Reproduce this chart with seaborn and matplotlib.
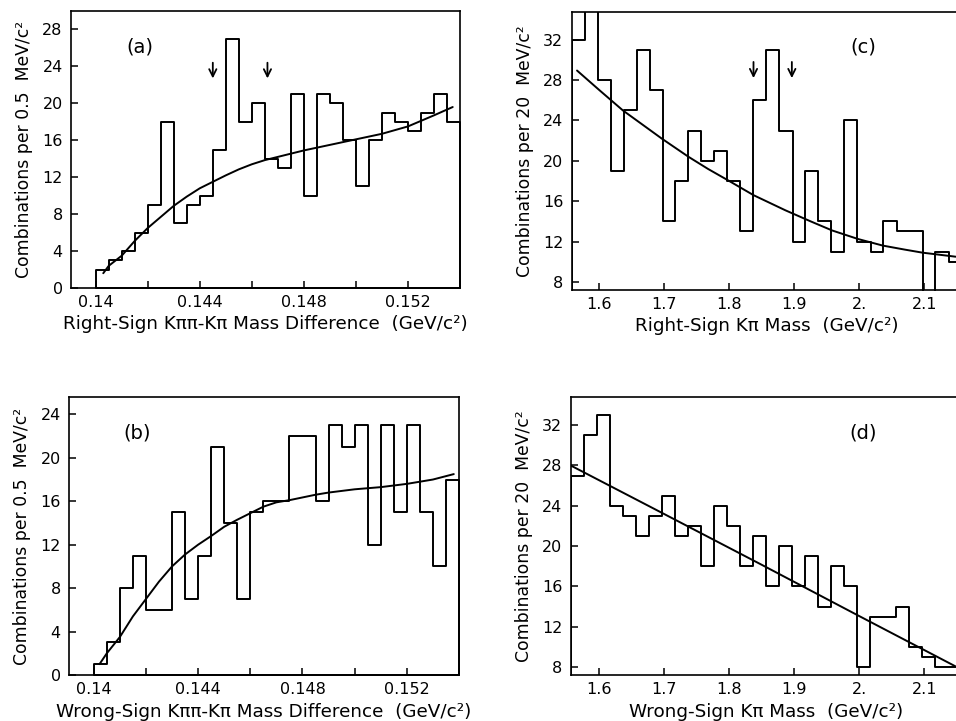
import numpy as np
import pandas as pd
import matplotlib
matplotlib.use("Agg")
import matplotlib.pyplot as plt
import seaborn as sns

# ---------------- data ----------------
# Mass-difference histograms: 0.5 MeV bins starting at 0.140 GeV
dm_start, dm_width = 0.140, 0.0005
dm_right_counts = [2, 3, 4, 6, 9, 18, 7, 9, 10, 15, 27, 18, 20, 14,
                   13, 21, 10, 21, 20, 16, 11, 16, 19, 18, 17, 19, 21, 18]
dm_wrong_counts = [1, 3, 8, 11, 6, 6, 15, 7, 11, 21, 14, 7, 15, 16,
                   16, 22, 22, 16, 23, 21, 23, 12, 23, 15, 23, 15, 10, 18]

# Background fits for the mass-difference plots
dm_right_fit_x = [0.14029, 0.1405, 0.1410, 0.1415, 0.1420, 0.1425, 0.1430,
                  0.1435, 0.1440, 0.1445, 0.1450, 0.1455, 0.1460, 0.1465,
                  0.1470, 0.1480, 0.1490, 0.1500, 0.1510, 0.1520, 0.1530,
                  0.15372]
dm_right_fit_y = [1.6, 2.4, 3.5, 5.1, 6.5, 7.7, 8.9, 9.9, 10.8, 11.5, 12.2,
                  12.85, 13.4, 13.85, 14.2, 14.9, 15.5, 16.1, 16.7, 17.5,
                  18.7, 19.6]
dm_wrong_fit_x = [0.14022, 0.1405, 0.1410, 0.1415, 0.1420, 0.1425, 0.1430,
                  0.1435, 0.1440, 0.1445, 0.1450, 0.1455, 0.1460, 0.1465,
                  0.1470, 0.1475, 0.1480, 0.1485, 0.1490, 0.1500, 0.1510,
                  0.1520, 0.1530, 0.1538]
dm_wrong_fit_y = [1.0, 2.0, 3.5, 5.4, 7.0, 8.6, 10.0, 11.1, 12.0, 12.8,
                  13.65, 14.3, 14.9, 15.5, 15.9, 16.1, 16.35, 16.6, 16.8,
                  17.1, 17.3, 17.6, 18.0, 18.5]

# Signal window markers
dm_arrows = [0.1445, 0.1466]

# K pi invariant-mass histograms: 20 MeV bins
kpi_start, kpi_width = 1.557, 0.02
kpi_right_counts = [32, 36, 28, 19, 25, 31, 27, 14, 18, 23, 20, 21, 18, 13,
                    26, 31, 23, 12, 19, 14, 11, 24, 12, 11, 14, 13, 13, 7,
                    11, 10]
kpi_wrong_counts = [27, 31, 33, 24, 23, 21, 23, 25, 21, 22, 18, 24, 22, 18,
                    21, 16, 20, 16, 19, 14, 18, 16, 8, 13, 13, 14, 10, 9,
                    8, 8]

kpi_right_fit_x = [1.5655, 1.600, 1.636, 1.666, 1.696, 1.737, 1.767, 1.797,
                   1.837, 1.886, 1.925, 1.958, 1.998, 2.036, 2.070, 2.097,
                   2.148]
kpi_right_fit_y = [28.95, 27.0, 25.0, 23.6, 22.2, 20.4, 19.2, 18.1, 16.6,
                   15.1, 14.0, 13.1, 12.25, 11.6, 11.2, 10.9, 10.5]
kpi_wrong_fit_x = [1.557, 1.700, 1.850, 2.000, 2.148]
kpi_wrong_fit_y = [28.0, 23.2, 18.15, 13.05, 8.05]

kpi_arrows = [1.837, 1.896]

dm_ticks = [0.140, 0.142, 0.144, 0.146, 0.148, 0.150, 0.152, 0.154]
dm_ticklabels = ["0.14", "", "0.144", "", "0.148", "", "0.152", ""]
kpi_ticks = [1.6, 1.7, 1.8, 1.9, 2.0, 2.1]
kpi_ticklabels = ["1.6", "1.7", "1.8", "1.9", "2.", "2.1"]

# ---------------- style ----------------
sns.set_theme(style="ticks")
plt.rcParams.update({
    "font.family": ["DejaVu Sans"],
    "axes.linewidth": 1.2,
    "axes.edgecolor": "black",
    "xtick.direction": "in",
    "ytick.direction": "in",
    "xtick.major.size": 5,
    "ytick.major.size": 5,
    "xtick.major.width": 1.1,
    "ytick.major.width": 1.1,
    "xtick.labelsize": 11.5,
    "ytick.labelsize": 11.5,
    "xtick.color": "black",
    "ytick.color": "black",
    "text.color": "black",
    "axes.labelcolor": "black",
})

W, H = 956, 721
fig = plt.figure(figsize=(W / 100, H / 100), dpi=100)
fig.patch.set_facecolor("white")


def place(left, top, width, height):
    return fig.add_axes([left / W, 1 - (top + height) / H, width / W, height / H])


def draw_hist(ax, start, width, counts):
    n = len(counts)
    edges = [start + width * i for i in range(n + 1)]
    df = pd.DataFrame({"center": [start + width * (i + 0.5) for i in range(n)],
                       "count": counts})
    sns.histplot(data=df, x="center", weights="count", bins=edges,
                 element="step", fill=True, color="black",
                 facecolor=(1, 1, 1, 0), edgecolor="black", linewidth=1.4,
                 ax=ax)


def draw_fit(ax, xs, ys):
    sns.lineplot(x=xs, y=ys, color="black", linewidth=1.4, ax=ax,
                 estimator=None, sort=False)


def draw_arrows(ax, xs, tail, tip):
    for x in xs:
        ax.annotate("", xy=(x, tip), xytext=(x, tail),
                    arrowprops=dict(arrowstyle="->", lw=1.3, color="black",
                                    mutation_scale=13, shrinkA=0, shrinkB=0))


def finish(ax, xlim, ylim, xticks, xticklabels, yticks, xlabel, ylabel,
           tag, tag_pos, xpad, ypad):
    ax.set_xlim(*xlim)
    ax.set_ylim(*ylim)
    ax.set_xticks(xticks)
    ax.set_xticklabels(xticklabels)
    ax.set_yticks(yticks)
    ax.set_yticklabels([str(v) for v in yticks])
    ax.tick_params(axis="x", pad=5)
    ax.tick_params(axis="y", pad=6)
    ax.set_xlabel(xlabel, fontsize=13.2, labelpad=xpad)
    ax.set_ylabel(ylabel, fontsize=12.4, labelpad=ypad)
    ax.text(tag_pos[0], tag_pos[1], tag, transform=ax.transAxes,
            ha="center", va="center", fontsize=14)
    for s in ax.spines.values():
        s.set_visible(True)
        s.set_linewidth(1.2)


# (a) right-sign mass difference
ax_a = place(71, 11, 389, 277)
draw_hist(ax_a, dm_start, dm_width, dm_right_counts)
draw_fit(ax_a, dm_right_fit_x, dm_right_fit_y)
draw_arrows(ax_a, dm_arrows, 24.4, 22.7)
finish(ax_a, (0.13905, 0.1540), (0, 30), dm_ticks, dm_ticklabels,
       list(range(0, 29, 4)),
       "Right-Sign K\u03c0\u03c0-K\u03c0 Mass Difference  (GeV/c\u00b2)",
       "Combinations per 0.5  MeV/c\u00b2", "(a)", (0.177, 0.871), 3.5, 6.5)

# (b) wrong-sign mass difference
ax_b = place(69, 397, 390, 278)
draw_hist(ax_b, dm_start, dm_width, dm_wrong_counts)
draw_fit(ax_b, dm_wrong_fit_x, dm_wrong_fit_y)
finish(ax_b, (0.13905, 0.1540), (0, 25.6), dm_ticks, dm_ticklabels,
       list(range(0, 25, 4)),
       "Wrong-Sign K\u03c0\u03c0-K\u03c0 Mass Difference  (GeV/c\u00b2)",
       "Combinations per 0.5  MeV/c\u00b2", "(b)", (0.1735, 0.869), 4.5, 6.5)

# (c) right-sign K pi mass
ax_c = place(571.5, 11.5, 390, 278.5)
draw_hist(ax_c, kpi_start, kpi_width, kpi_right_counts)
draw_fit(ax_c, kpi_right_fit_x, kpi_right_fit_y)
draw_arrows(ax_c, kpi_arrows, 29.8, 28.2)
finish(ax_c, (kpi_start, kpi_start + 0.6), (7.2, 34.8), kpi_ticks,
       kpi_ticklabels, list(range(8, 33, 4)),
       "Right-Sign K\u03c0 Mass  (GeV/c\u00b2)",
       "Combinations per 20  MeV/c\u00b2", "(c)", (0.7485, 0.874), 3.5, 6.5)

# (d) wrong-sign K pi mass
ax_d = place(570.7, 397, 390.8, 278)
draw_hist(ax_d, kpi_start, kpi_width, kpi_wrong_counts)
draw_fit(ax_d, kpi_wrong_fit_x, kpi_wrong_fit_y)
finish(ax_d, (kpi_start, kpi_start + 0.6), (7.2, 34.8), kpi_ticks,
       kpi_ticklabels, list(range(8, 33, 4)),
       "Wrong-Sign K\u03c0 Mass  (GeV/c\u00b2)",
       "Combinations per 20  MeV/c\u00b2", "(d)", (0.7473, 0.869), 4.5, 6.5)

fig.savefig("out.png", dpi=100, facecolor="white")
